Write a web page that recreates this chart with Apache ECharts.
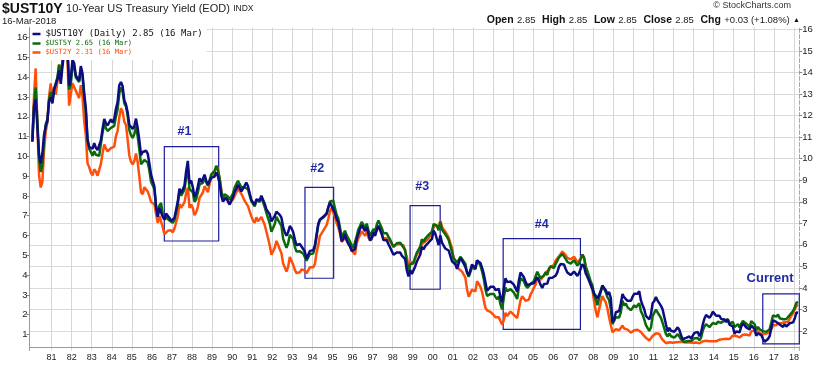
<!DOCTYPE html>
<html><head><meta charset="utf-8">
<script src="https://cdn.jsdelivr.net/npm/echarts@6/dist/echarts.min.js"></script>
<style>html,body{margin:0;padding:0;background:#fff}#c{width:829px;height:365px}</style>
</head><body><div id="c"></div><script>
// monthly readings, Jan 1980 .. Mar 2018
const startYear = 1980;
const ust10y = [
10.80,12.41,12.75,11.47,10.18,9.78,10.25,11.10,11.51,11.75,12.68,12.84,
12.57,13.19,13.12,13.68,14.10,13.47,14.28,14.94,15.32,15.15,13.39,13.72,
14.59,14.43,13.86,13.87,13.62,14.30,13.95,13.06,12.34,10.91,10.55,10.54,
10.46,10.72,10.51,10.40,10.38,10.85,11.38,11.85,11.65,11.54,11.69,11.83,
11.67,11.84,12.32,12.63,13.41,13.56,13.36,12.72,12.52,12.16,11.57,11.50,
11.38,11.51,11.86,11.43,10.85,10.16,10.31,10.33,10.37,10.24,9.78,9.26,
9.19,8.70,7.78,7.30,7.71,7.80,7.30,7.17,7.45,7.43,7.25,7.11,
7.08,7.25,7.25,8.02,8.61,8.40,8.45,8.76,9.42,9.90,8.86,8.99,
8.67,8.21,8.37,8.72,9.09,8.92,9.06,9.26,8.98,8.80,8.96,9.11,
9.09,9.17,9.36,9.18,8.86,8.28,8.02,8.11,8.19,8.01,7.87,7.84,
8.21,8.47,8.59,8.79,8.76,8.48,8.47,8.75,8.89,8.72,8.39,8.08,
8.09,7.85,8.11,8.04,8.07,8.28,8.27,7.90,7.65,7.53,7.42,7.09,
7.03,7.34,7.54,7.48,7.39,7.26,6.84,6.59,6.42,6.59,6.87,6.77,
6.60,6.26,5.98,5.97,6.04,5.96,5.81,5.68,5.36,5.33,5.72,5.77,
5.75,5.97,6.48,6.97,7.18,7.10,7.30,7.24,7.46,7.74,7.96,7.81,
7.78,7.47,7.20,7.06,6.63,6.17,6.28,6.49,6.20,6.04,5.93,5.71,
5.65,5.81,6.27,6.51,6.74,6.91,6.87,6.64,6.83,6.53,6.20,6.30,
6.58,6.42,6.69,6.89,6.71,6.49,6.22,6.30,6.21,6.03,5.88,5.81,
5.54,5.57,5.65,5.64,5.65,5.50,5.46,5.34,4.81,4.53,4.83,4.65,
4.72,5.00,5.23,5.18,5.54,5.90,5.79,5.94,5.92,6.11,6.03,6.28,
6.66,6.52,6.26,5.99,6.44,6.10,6.05,5.83,5.80,5.74,5.72,5.24,
5.16,5.10,4.89,5.14,5.39,5.28,5.24,4.97,4.73,4.57,4.65,5.09,
5.04,4.91,5.28,5.21,5.16,4.93,4.65,4.26,3.87,3.94,4.05,4.03,
4.05,3.90,3.81,3.96,3.57,3.33,3.98,4.45,4.27,4.29,4.30,4.27,
4.15,4.08,3.83,4.35,4.72,4.73,4.50,4.28,4.13,4.10,4.19,4.23,
4.22,4.17,4.50,4.34,4.14,4.00,4.18,4.26,4.20,4.46,4.54,4.47,
4.42,4.57,4.72,4.99,5.11,5.11,5.09,4.88,4.72,4.73,4.60,4.56,
4.76,4.72,4.56,4.69,4.75,5.10,5.00,4.67,4.52,4.53,4.15,4.10,
3.74,3.74,3.51,3.68,3.88,4.10,4.01,3.89,3.69,3.81,3.53,2.42,
2.52,2.87,2.82,2.93,3.29,3.72,3.56,3.59,3.40,3.39,3.40,3.59,
3.73,3.69,3.73,3.85,3.42,3.20,3.01,2.70,2.65,2.54,2.76,3.29,
3.39,3.58,3.41,3.46,3.17,3.00,3.00,2.30,1.98,2.15,2.01,1.98,
1.97,1.97,2.17,2.05,1.80,1.62,1.53,1.68,1.72,1.75,1.65,1.72,
1.91,1.98,1.96,1.76,1.93,2.30,2.58,2.74,2.81,2.62,2.72,2.90,
2.86,2.71,2.72,2.71,2.56,2.60,2.54,2.42,2.53,2.30,2.33,2.21,
1.88,1.98,2.04,1.94,2.20,2.36,2.32,2.17,2.17,2.07,2.26,2.24,
2.09,1.78,1.89,1.81,1.81,1.64,1.50,1.56,1.63,1.76,2.14,2.49,
2.43,2.42,2.48,2.30,2.30,2.19,2.32,2.21,2.20,2.36,2.35,2.40,
2.58,2.86,2.85];
const ust5y = [
10.74,12.60,13.47,11.84,9.95,9.21,9.53,10.84,11.62,11.86,12.83,13.25,
12.77,13.41,13.41,13.99,14.63,13.95,14.79,15.56,15.93,15.41,13.38,13.60,
14.65,14.54,13.98,14.00,13.75,14.43,14.07,13.00,12.25,10.80,10.38,10.22,
10.03,10.26,10.08,10.02,10.03,10.63,11.21,11.63,11.43,11.28,11.32,11.44,
11.37,11.54,12.02,12.37,13.17,13.48,13.27,12.68,12.53,12.06,11.33,11.07,
10.93,11.13,11.52,11.01,10.34,9.60,9.70,9.81,9.81,9.69,9.28,8.73,
8.68,8.34,7.46,7.05,7.52,7.64,7.06,6.80,6.92,6.83,6.76,6.67,
6.64,6.79,6.79,7.57,8.26,8.02,8.01,8.32,8.94,9.40,8.35,8.45,
8.18,7.71,7.83,8.19,8.58,8.49,8.66,8.94,8.69,8.51,8.79,9.09,
9.15,9.27,9.51,9.30,8.91,8.29,7.83,8.09,8.17,7.97,7.81,7.75,
8.12,8.42,8.60,8.77,8.74,8.43,8.33,8.44,8.51,8.33,8.02,7.73,
7.70,7.47,7.77,7.70,7.70,7.94,7.91,7.43,7.14,6.87,6.62,6.19,
6.24,6.58,6.95,6.78,6.69,6.48,5.84,5.60,5.38,5.60,6.04,6.08,
5.83,5.43,5.19,5.13,5.20,5.22,5.09,5.03,4.73,4.71,5.06,5.15,
5.09,5.40,5.94,6.52,6.78,6.70,6.91,6.88,7.08,7.40,7.72,7.78,
7.76,7.37,7.05,6.86,6.41,5.93,6.01,6.24,6.00,5.86,5.69,5.51,
5.36,5.38,5.97,6.30,6.48,6.69,6.64,6.39,6.60,6.27,5.97,6.07,
6.33,6.20,6.54,6.76,6.57,6.38,6.12,6.16,6.11,5.93,5.80,5.77,
5.42,5.49,5.61,5.61,5.63,5.52,5.46,5.27,4.62,4.18,4.54,4.45,
4.60,4.91,5.14,5.08,5.44,5.81,5.68,5.84,5.80,6.03,5.97,6.19,
6.58,6.68,6.50,6.26,6.69,6.30,6.18,6.06,5.93,5.78,5.70,5.17,
4.86,4.89,4.64,4.76,4.93,4.81,4.76,4.57,4.12,3.91,3.97,4.39,
4.34,4.30,4.74,4.65,4.49,4.19,3.81,3.29,2.94,2.95,3.05,3.03,
3.05,2.90,2.78,2.93,2.52,2.27,2.87,3.37,3.18,3.19,3.29,3.27,
3.12,3.07,2.79,3.39,3.85,3.93,3.69,3.47,3.36,3.35,3.53,3.60,
3.71,3.77,4.17,4.00,3.85,3.77,3.98,4.12,4.01,4.33,4.45,4.39,
4.35,4.57,4.72,4.90,5.00,5.07,5.04,4.82,4.67,4.69,4.58,4.53,
4.75,4.71,4.48,4.59,4.67,5.03,4.88,4.43,4.20,4.20,3.67,3.49,
2.98,2.78,2.48,2.84,3.15,3.49,3.30,3.14,2.88,2.73,2.29,1.52,
1.60,1.87,1.82,1.86,2.13,2.71,2.46,2.57,2.37,2.33,2.23,2.34,
2.48,2.36,2.43,2.58,2.18,2.00,1.76,1.47,1.41,1.18,1.35,1.93,
1.99,2.26,2.11,2.17,1.84,1.58,1.54,1.02,0.90,1.06,0.91,0.89,
0.84,0.83,1.02,0.89,0.76,0.71,0.62,0.71,0.67,0.71,0.67,0.70,
0.81,0.85,0.82,0.71,0.84,1.20,1.40,1.52,1.60,1.37,1.37,1.58,
1.65,1.52,1.64,1.70,1.59,1.68,1.70,1.63,1.77,1.55,1.62,1.64,
1.37,1.47,1.52,1.35,1.54,1.68,1.63,1.54,1.49,1.39,1.67,1.70,
1.52,1.22,1.38,1.26,1.30,1.17,1.07,1.13,1.18,1.27,1.60,1.96,
1.92,1.90,2.01,1.82,1.84,1.77,1.87,1.78,1.80,1.98,2.05,2.18,
2.38,2.60,2.65];
const ust2y = [
11.20,13.50,15.00,12.00,9.30,8.60,8.90,10.60,11.60,12.10,13.50,14.20,
13.30,14.00,13.60,14.30,15.20,14.40,15.40,16.20,16.40,15.50,13.00,13.10,
14.20,14.30,13.80,13.80,13.40,14.10,13.50,12.20,11.40,9.90,9.70,9.40,
9.25,9.58,9.46,9.23,9.25,9.87,10.44,10.91,10.70,10.54,10.56,10.72,
10.63,10.80,11.36,11.65,12.36,12.86,12.68,12.14,11.96,11.19,10.32,9.98,
9.84,10.02,10.43,9.97,9.19,8.35,8.24,8.62,8.57,8.38,8.14,7.82,
7.87,7.71,7.17,6.70,7.06,7.04,6.47,6.09,6.17,6.27,6.28,6.30,
6.19,6.39,6.42,7.07,7.71,7.51,7.53,7.81,8.29,8.60,7.50,7.69,
7.49,7.11,7.27,7.56,8.04,8.01,8.33,8.67,8.52,8.35,8.78,9.13,
9.20,9.37,9.77,9.58,9.09,8.46,7.84,8.07,8.15,7.91,7.74,7.70,
7.96,8.15,8.33,8.52,8.55,8.27,8.08,7.88,7.87,7.60,7.31,7.05,
6.82,6.70,7.00,6.78,6.80,7.02,7.05,6.59,6.22,5.87,5.48,4.99,
4.92,5.37,5.73,5.52,5.28,5.07,4.51,4.30,4.08,4.34,4.87,4.84,
4.45,4.17,4.00,3.93,4.04,4.20,4.20,4.14,3.99,4.02,4.31,4.29,
4.31,4.49,5.10,5.49,5.99,6.01,6.28,6.33,6.58,6.90,7.32,7.49,
7.46,7.02,6.68,6.46,6.13,5.68,5.70,5.89,5.79,5.69,5.43,5.29,
5.11,5.00,5.61,5.86,6.05,6.25,6.21,6.01,6.21,5.92,5.75,5.83,
6.02,5.97,6.29,6.46,6.31,6.14,5.88,5.92,5.86,5.79,5.70,5.72,
5.44,5.47,5.54,5.56,5.56,5.51,5.49,5.40,4.86,4.34,4.58,4.52,
4.58,4.78,5.00,4.91,5.20,5.57,5.53,5.69,5.70,5.86,5.95,6.17,
6.44,6.61,6.53,6.40,6.81,6.48,6.34,6.23,6.08,5.91,5.88,5.34,
4.76,4.66,4.34,4.23,4.26,4.08,4.04,3.76,3.12,2.73,2.78,3.11,
3.03,3.02,3.56,3.42,3.26,2.99,2.56,2.13,2.00,1.91,1.92,1.84,
1.74,1.63,1.57,1.62,1.42,1.23,1.47,1.86,1.69,1.75,1.93,1.91,
1.76,1.74,1.58,2.07,2.53,2.76,2.64,2.51,2.53,2.58,2.85,3.01,
3.22,3.38,3.73,3.65,3.64,3.64,3.87,4.04,3.95,4.17,4.33,4.35,
4.45,4.68,4.77,4.90,5.00,5.16,5.22,4.97,4.82,4.80,4.74,4.67,
4.88,4.85,4.57,4.67,4.77,5.00,4.82,4.31,4.01,3.97,3.34,3.12,
2.48,1.97,1.62,2.05,2.45,2.77,2.57,2.42,2.08,1.61,1.21,0.82,
0.81,0.98,0.93,0.93,0.92,1.18,1.02,1.12,0.96,0.95,0.80,0.87,
0.93,0.86,0.96,1.06,0.83,0.72,0.62,0.52,0.48,0.38,0.45,0.62,
0.61,0.77,0.70,0.73,0.56,0.41,0.41,0.23,0.21,0.28,0.25,0.26,
0.24,0.28,0.34,0.29,0.29,0.29,0.25,0.27,0.26,0.28,0.27,0.26,
0.27,0.27,0.26,0.23,0.25,0.33,0.34,0.36,0.40,0.34,0.30,0.34,
0.39,0.33,0.40,0.42,0.39,0.45,0.51,0.47,0.57,0.45,0.53,0.64,
0.55,0.62,0.64,0.54,0.61,0.69,0.67,0.70,0.71,0.64,0.88,0.98,
0.90,0.73,0.88,0.77,0.82,0.73,0.67,0.74,0.77,0.84,0.98,1.20,
1.21,1.20,1.31,1.24,1.30,1.34,1.37,1.34,1.38,1.55,1.70,1.84,
2.03,2.22,2.31];

const yearTicks = [];
for (let y = 1981; y <= 2018; y++) yearTicks.push(y);
const leftTicks = [1,2,3,4,5,6,7,8,9,10,11,12,13,14,15,16];
const rightTicks = [2,3,4,5,6,7,8,9,10,11,12,13,14,15,16];

// annotation boxes (x in years, y in $UST10Y units)
const boxes = [
  {label:'#1', x1:1986.62, x2:1989.33, y1:6.18, y2:10.56},
  {label:'#2', x1:1993.63, x2:1995.06, y1:4.45, y2:8.67},
  {label:'#3', x1:1998.87, x2:2000.37, y1:3.94, y2:7.82},
  {label:'#4', x1:2003.51, x2:2007.36, y1:2.08, y2:6.29},
  {label:'Current', x1:2016.45, x2:2018.27, y1:1.40, y2:3.72}
];
const labelShift = {'#1':[-7,-4],'#2':[-2,-8],'#3':[-3,-8],'#4':[0,-3],'Current':[-11,-4]};

const name10 = '$UST10Y (Daily) 2.85 (16 Mar)';
const name5 = '$UST5Y 2.65 (16 Mar)';
const name2 = '$UST2Y 2.31 (16 Mar)';
const C10 = '#0d0d82', C5 = '#0a6a0a', C2 = '#ff4f0a';

function pts(arr){ return arr.map((v,i)=>[startYear + (i+0.5)/12, v]); }

const chart = echarts.init(document.getElementById('c'), null, {renderer:'canvas'});
const FF = 'Liberation Sans, Arial, sans-serif';
const MONO = 'DejaVu Sans Mono, monospace';
chart.setOption({
  animation:false,
  textStyle:{fontFamily:FF},
  grid:{left:29.5, right:29.7, top:27.5, bottom:14.5, containLabel:false},
  xAxis:{type:'value', min:1979.9, max:2018.27,
    axisLine:{show:true, lineStyle:{color:'#9a9a9a'}},
    axisTick:{show:false, customValues:yearTicks},
    axisLabel:{customValues:yearTicks, formatter:v=>String(Math.round(v)).slice(2), fontSize:9, color:'#222', margin:3},
    splitLine:{show:true, lineStyle:{color:'#d6d6d6', width:1}}
  },
  yAxis:[
    {type:'value', position:'left', min:0.19, max:16.51,
     axisLine:{show:true, lineStyle:{color:'#9a9a9a'}},
     axisTick:{show:true, inside:false, length:3, customValues:leftTicks, lineStyle:{color:'#888'}},
     axisLabel:{customValues:leftTicks, fontSize:9.5, color:'#222', margin:2},
     splitLine:{show:false}},
    {type:'value', position:'right', min:1.096, max:16.09,
     axisLine:{show:true, lineStyle:{color:'#a8a8a8', type:'dashed'}},
     axisTick:{show:true, length:3, customValues:rightTicks, lineStyle:{color:'#888'}},
     axisLabel:{customValues:rightTicks, fontSize:9.5, color:'#222', margin:3},
     splitLine:{show:true, lineStyle:{color:'#dadada', width:1}}},
    {type:'value', min:-0.161, max:17.2, show:false, splitLine:{show:false}}
  ],
  legend:{
    orient:'vertical', left:30.5, top:28, itemGap:0, itemWidth:8, itemHeight:2.5,
    icon:'rect', selectedMode:false, backgroundColor:'#ffffff', padding:[1,4,3,2],
    textStyle:{fontFamily:MONO, lineHeight:9},
    data:[
      {name:name10, textStyle:{fontSize:9, color:'#111', fontFamily:MONO, lineHeight:10}},
      {name:name5, textStyle:{fontSize:7.2, color:C5, fontFamily:MONO, lineHeight:9}},
      {name:name2, textStyle:{fontSize:7.2, color:C2, fontFamily:MONO, lineHeight:9}}
    ]
  },
  graphic:[
    {type:'text', left:2, top:2, style:{
      text:'{a|$UST10Y} {b|10-Year US Treasury Yield (EOD)} {c|INDX}',
      rich:{a:{fontFamily:'Liberation Sans Narrow, Liberation Sans, Arial', fontWeight:'bold', fontSize:14, fill:'#111'},
            b:{fontFamily:FF, fontSize:11, fill:'#222'},
            c:{fontFamily:FF, fontSize:8.5, fill:'#222'}}}},
    {type:'text', left:2, top:16, style:{text:'16-Mar-2018', font:'9.5px Liberation Sans, Arial', fill:'#222'}},
    {type:'text', right:38, top:1, style:{text:'© StockCharts.com', font:'9px Liberation Sans, Arial', fill:'#333'}},
    {type:'text', right:29, top:14, style:{
      text:'{b|Open} {v|2.85}  {b|High} {v|2.85}  {b|Low} {v|2.85}  {b|Close} {v|2.85}  {b|Chg} {v|+0.03 (+1.08%)} {t|▲}',
      rich:{b:{fontFamily:FF, fontWeight:'bold', fontSize:10.5, fill:'#111'},
            v:{fontFamily:FF, fontSize:9.5, fill:'#222'},
            t:{fontFamily:FF, fontSize:7, fill:'#111'}}}}
  ],
  series:[
    {name:name2, type:'line', yAxisIndex:2, data:pts(ust2y), showSymbol:false, color:C2,
     lineStyle:{width:2.5, color:C2}, z:2},
    {name:name5, type:'line', yAxisIndex:0, data:pts(ust5y), showSymbol:false, color:C5,
     lineStyle:{width:2.5, color:C5}, z:2},
    {name:name10, type:'line', yAxisIndex:1, data:pts(ust10y), showSymbol:false, color:C10,
     lineStyle:{width:2.5, color:C10}, z:3,
     markArea:{silent:true,
       itemStyle:{color:'rgba(0,0,0,0)', borderColor:'#1e1e9c', borderWidth:1.2},
       data: boxes.map(b=>[
         {name:b.label, coord:[b.x1, b.y2],
          label:{show:true, position:'top', distance:4, offset:labelShift[b.label],
                 color:'#1f2aa8', fontWeight:'bold', fontFamily:FF,
                 fontSize: b.label==='Current'?13:12.5}},
         {coord:[b.x2, b.y1]}])
     }}
  ]
});
</script></body></html>
